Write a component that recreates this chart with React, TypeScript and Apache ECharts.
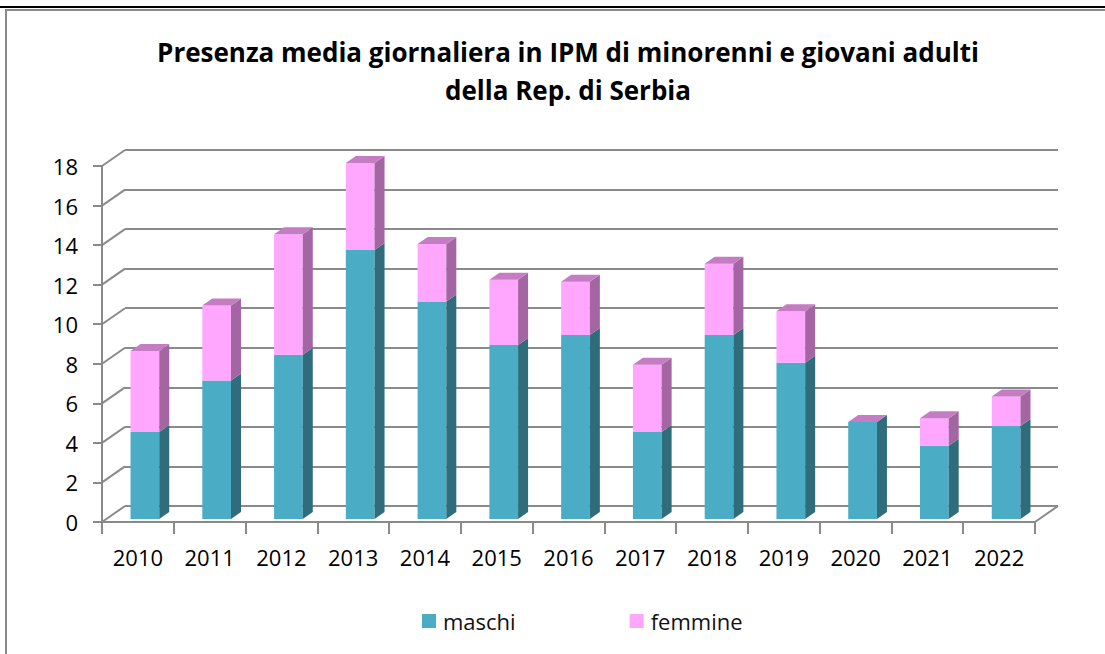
import React, { useEffect, useRef } from "react";
import * as echarts from "echarts";

const years = ["2010", "2011", "2012", "2013", "2014", "2015", "2016", "2017", "2018", "2019", "2020", "2021", "2022"];
const maschi = [4.4, 7.0, 8.3, 13.6, 11.0, 8.8, 9.3, 4.4, 9.3, 7.9, 4.9, 3.7, 4.7];
const femmine = [4.1, 3.8, 6.1, 4.4, 2.9, 3.3, 2.7, 3.4, 3.6, 2.6, 0, 1.4, 1.5];
const yTicks = [0, 2, 4, 6, 8, 10, 12, 14, 16, 18];
const yMax = 18;
const yStep = 2;

const titleText = "Presenza media giornaliera in IPM di minorenni e giovani adulti\ndella Rep. di Serbia";

const FONT = "'Open Sans', Lato, sans-serif";
const GRID_COLOR = "#8a8a8a";
// 3D projection offsets (px)
const WALL_DX = 23;
const WALL_DY = 16;
const BAR_OX = 7;
const BAR_OY = 3;
const BAR_DX = 10;
const BAR_DY = 7;
const BAR_W = 0.4;

const colors = {
  maschi: { front: "#4BACC6", side: "#2F6D7C", top: "#7FC4D6" },
  femmine: { front: "#FFA6FF", side: "#A466A2", top: "#C47DC3" },
};

function barRender(key: "maschi" | "femmine") {
  return (params: any, api: any) => {
    const i = api.value(0);
    const base = api.value(1);
    const h = api.value(2);
    const pB = api.coord([i, base]);
    const pT = api.coord([i, base + h]);
    const bw = api.size([1, 0])[0];
    const w = bw * BAR_W;
    const xL = pB[0] - w / 2 + BAR_OX;
    const xR = xL + w;
    const yB = pB[1] - BAR_OY;
    const yT = pT[1] - BAR_OY;
    const c = colors[key];
    const children: any[] = [];
    if (h > 0) {
      children.push({
        type: "polygon",
        shape: { points: [[xL, yB], [xR, yB], [xR, yT], [xL, yT]] },
        style: { fill: c.front },
      });
      children.push({
        type: "polygon",
        shape: { points: [[xR, yB], [xR + BAR_DX, yB - BAR_DY], [xR + BAR_DX, yT - BAR_DY], [xR, yT]] },
        style: { fill: c.side },
      });
    }
    if (key === "femmine") {
      children.push({
        type: "polygon",
        shape: { points: [[xL, yT], [xR, yT], [xR + BAR_DX, yT - BAR_DY], [xL + BAR_DX, yT - BAR_DY]] },
        style: { fill: c.top },
      });
    }
    return { type: "group", children };
  };
}

function wallRender(params: any, api: any) {
  const v = api.value(1);
  const p = api.coord([0, v]);
  const bw = api.size([1, 0])[0];
  const x0 = p[0] - bw / 2;
  const children: any[] = [
    {
      type: "line",
      shape: { x1: x0, y1: p[1], x2: x0 + WALL_DX, y2: p[1] - WALL_DY },
      style: { stroke: GRID_COLOR, lineWidth: 2 },
    },
  ];
  if (v === 0) {
    const pe = api.coord([years.length - 1, 0]);
    const xe = pe[0] + bw / 2;
    children.push({
      type: "line",
      shape: { x1: xe, y1: p[1], x2: xe + WALL_DX, y2: p[1] - WALL_DY },
      style: { stroke: GRID_COLOR, lineWidth: 2 },
    });
  }
  return { type: "group", children };
}

export default function App() {
  const ref = useRef<HTMLDivElement>(null);
  useEffect(() => {
    document.body.style.margin = "0";
    if (!ref.current) return;
    const chart = echarts.init(ref.current, undefined, { renderer: "svg" });
    const option: any = {
      animation: false,
      backgroundColor: "#ffffff",
      title: {
        text: titleText,
        left: 563,
        top: 28,
        textAlign: "center",
        textStyle: { fontFamily: FONT, fontWeight: "bold", fontSize: 26, lineHeight: 38, color: "#000" },
      },
      legend: {
        data: ["maschi", "femmine"],
        left: 417,
        top: 605,
        icon: "rect",
        itemWidth: 14,
        itemHeight: 14,
        itemGap: 114,
        textStyle: { fontFamily: FONT, fontSize: 22, color: "#111", padding: [0, 0, 0, 2] },
      },
      grid: [
        { left: 102, right: 70, top: 166, bottom: 132 },
        { left: 102 + WALL_DX, right: 70 - WALL_DX, top: 166 - WALL_DY, bottom: 132 + WALL_DY },
      ],
      xAxis: [
        {
          type: "category",
          gridIndex: 0,
          data: years,
          boundaryGap: true,
          axisLine: { show: true, lineStyle: { color: GRID_COLOR, width: 2 } },
          axisTick: { show: true, length: 12, interval: 0, lineStyle: { color: GRID_COLOR, width: 2 } },
          axisLabel: { fontFamily: FONT, fontSize: 22, color: "#000", margin: 24, interval: 0 },
        },
        {
          type: "category",
          gridIndex: 1,
          data: years,
          show: false,
        },
      ],
      yAxis: [
        {
          type: "value",
          gridIndex: 0,
          min: 0,
          max: yMax,
          interval: yStep,
          axisLine: { show: true, lineStyle: { color: GRID_COLOR, width: 2 } },
          axisTick: { show: true, length: 9, lineStyle: { color: GRID_COLOR, width: 2 } },
          axisLabel: { fontFamily: FONT, fontSize: 22, color: "#000", margin: 24 },
          splitLine: { show: false },
        },
        {
          type: "value",
          gridIndex: 1,
          min: 0,
          max: yMax,
          interval: yStep,
          axisLine: { show: false },
          axisTick: { show: false },
          axisLabel: { show: false },
          splitLine: { show: true, lineStyle: { color: GRID_COLOR, width: 2 } },
        },
      ],
      series: [
        {
          type: "custom",
          name: "walls",
          xAxisIndex: 0,
          yAxisIndex: 0,
          renderItem: wallRender,
          data: yTicks.map((v) => [0, v]),
          encode: { x: 0, y: 1 },
          silent: true,
          z: 1,
        },
        {
          type: "custom",
          name: "maschi",
          xAxisIndex: 0,
          yAxisIndex: 0,
          itemStyle: { color: colors.maschi.front },
          renderItem: barRender("maschi"),
          data: maschi.map((v, i) => [i, 0, v]),
          encode: { x: 0, y: [1, 2] },
          z: 2,
        },
        {
          type: "custom",
          name: "femmine",
          xAxisIndex: 0,
          yAxisIndex: 0,
          itemStyle: { color: colors.femmine.front },
          renderItem: barRender("femmine"),
          data: femmine.map((v, i) => [i, maschi[i], v]),
          encode: { x: 0, y: [1, 2] },
          z: 3,
        },
      ],
      graphic: [
        { type: "line", shape: { x1: 0, y1: 7, x2: 1105, y2: 7 }, style: { stroke: "#000", lineWidth: 2 } },
        { type: "line", shape: { x1: 5, y1: 10, x2: 1105, y2: 10 }, style: { stroke: "#8a8a8a", lineWidth: 2 } },
        { type: "line", shape: { x1: 6, y1: 10, x2: 6, y2: 654 }, style: { stroke: "#8a8a8a", lineWidth: 2 } },
      ],
    };
    chart.setOption(option);
    return () => chart.dispose();
  }, []);
  return <div ref={ref} style={{ width: 1105, height: 654 }} />;
}
